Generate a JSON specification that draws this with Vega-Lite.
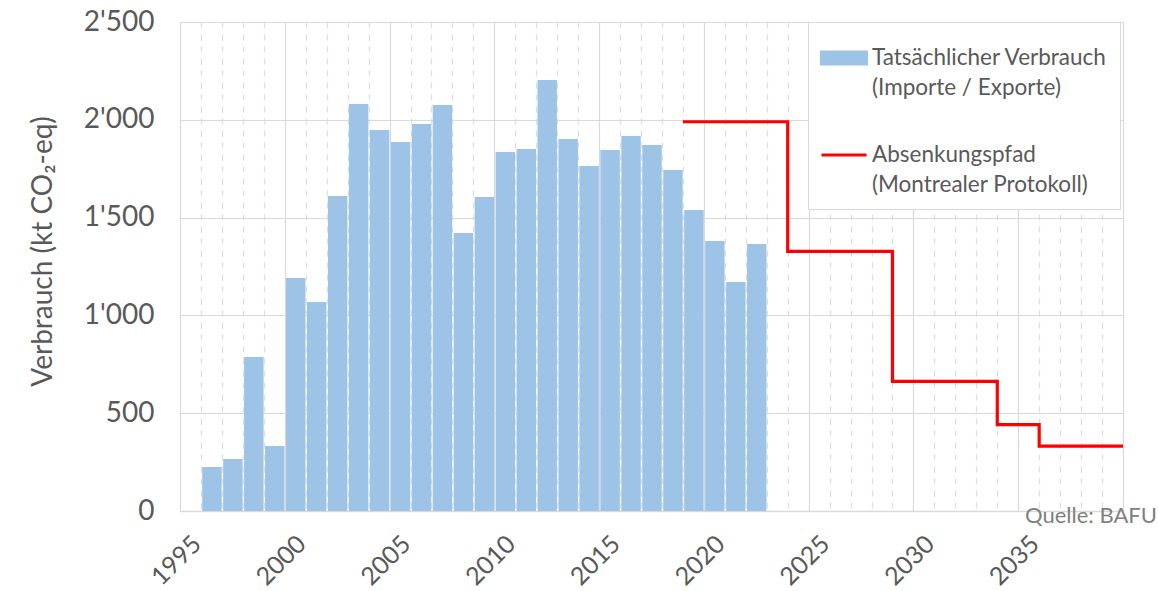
{
  "$schema": "https://vega.github.io/schema/vega-lite/v6.json",
  "width": 943,
  "height": 489,
  "autosize": {"type": "none"},
  "padding": {"left": 180, "top": 22, "right": 35, "bottom": 80},
  "background": "white",
  "config": {
    "font": "Lato",
    "view": {"stroke": null},
    "axis": {"labelColor": "#595959", "titleColor": "#595959", "labelFont": "Lato", "titleFont": "Lato"}
  },
  "layer": [
    {
      "data": {
        "values": [
          {"year": 1996, "value": 225}, {"year": 1997, "value": 266}, {"year": 1998, "value": 787},
          {"year": 1999, "value": 332}, {"year": 2000, "value": 1191}, {"year": 2001, "value": 1068},
          {"year": 2002, "value": 1610}, {"year": 2003, "value": 2081}, {"year": 2004, "value": 1948},
          {"year": 2005, "value": 1887}, {"year": 2006, "value": 1979}, {"year": 2007, "value": 2076},
          {"year": 2008, "value": 1421}, {"year": 2009, "value": 1605}, {"year": 2010, "value": 1835},
          {"year": 2011, "value": 1851}, {"year": 2012, "value": 2203}, {"year": 2013, "value": 1902},
          {"year": 2014, "value": 1764}, {"year": 2015, "value": 1846}, {"year": 2016, "value": 1917},
          {"year": 2017, "value": 1871}, {"year": 2018, "value": 1743}, {"year": 2019, "value": 1539},
          {"year": 2020, "value": 1380}, {"year": 2021, "value": 1171}, {"year": 2022, "value": 1365}
        ]
      },
      "mark": {"type": "bar", "binSpacing": 1.5},
      "encoding": {
        "x": {
          "field": "year",
          "type": "quantitative",
          "bin": {"step": 1, "extent": [1995, 2040]},
          "scale": {"domain": [1995, 2040], "nice": false},
          "axis": {
            "title": null,
            "values": [1995,1996,1997,1998,1999,2000,2001,2002,2003,2004,2005,2006,2007,2008,2009,2010,2011,2012,2013,2014,2015,2016,2017,2018,2019,2020,2021,2022,2023,2024,2025,2026,2027,2028,2029,2030,2031,2032,2033,2034,2035,2036,2037,2038,2039,2040],
            "format": "d",
            "labelExpr": "datum.value % 5 === 0 && datum.value < 2040 ? datum.label : ''",
            "labelAngle": -45,
            "labelFontSize": 25,
            "labelPadding": 20,
            "labelOffset": 8,
            "labelOverlap": false,
            "labelBound": false,
            "labelFlush": false,
            "ticks": false,
            "domain": true,
            "domainColor": "#D9D9D9",
            "domainWidth": 1.5,
            "grid": true,
            "gridColor": {"condition": {"test": "datum.value % 5 === 0", "value": "#D9D9D9"}, "value": "#DEDEDE"},
            "gridDash": {"condition": {"test": "datum.value % 5 === 0", "value": []}, "value": [6, 6]},
            "gridWidth": 1.2
          }
        },
        "y": {
          "field": "value",
          "type": "quantitative",
          "aggregate": "sum",
          "scale": {"domain": [0, 2500], "nice": false},
          "axis": {
            "title": "Verbrauch (kt CO₂-eq)",
            "titleFontSize": 28,
            "titleFontWeight": "normal",
            "titlePadding": 26,
            "titleY": 229,
            "values": [0, 500, 1000, 1500, 2000, 2500],
            "labelExpr": "replace(format(datum.value, ','), ',', \"'\")",
            "labelFontSize": 28,
            "labelPadding": 26,
            "ticks": false,
            "domain": true,
            "domainColor": "#D9D9D9",
            "grid": true,
            "gridColor": "#D9D9D9",
            "gridWidth": 1.2
          }
        },
        "color": {
          "datum": "Tatsächlicher Verbrauch (Importe / Exporte)",
          "type": "nominal",
          "scale": {
            "domain": ["Tatsächlicher Verbrauch (Importe / Exporte)", "Absenkungspfad (Montrealer Protokoll)"],
            "range": ["#9DC3E6", "#FF0000"]
          },
          "legend": {
            "title": null,
            "orient": "none",
            "legendX": 628,
            "legendY": 0,
            "fillColor": "white",
            "strokeColor": "#D9D9D9",
            "padding": 12,
            "rowPadding": 31,
            "labelFontSize": 22.5,
            "labelColor": "#595959",
            "labelFont": "Lato",
            "labelLimit": 400,
            "labelOffset": 4,
            "labelBaseline": "middle",
            "labelExpr": "datum.value === 'Absenkungspfad (Montrealer Protokoll)' ? ['Absenkungspfad', '(Montrealer Protokoll)'] : ['Tatsächlicher Verbrauch', '(Importe / Exporte)']",
            "symbolSize": 2025,
            "encode": {
              "labels": {"update": {"lineHeight": {"value": 30}}},
              "symbols": {
                "update": {
                  "shape": {"signal": "datum.value === 'Absenkungspfad (Montrealer Protokoll)' ? 'M-1,0H1' : 'M-1,-0.27H1V0.27H-1Z'"},
                  "fill": {"signal": "datum.value === 'Absenkungspfad (Montrealer Protokoll)' ? 'transparent' : '#9DC3E6'"},
                  "stroke": {"signal": "datum.value === 'Absenkungspfad (Montrealer Protokoll)' ? '#FF0000' : 'transparent'"},
                  "strokeWidth": {"value": 3},
                  "opacity": {"value": 1},
                  "size": {"value": 2025}
                }
              }
            }
          }
        }
      }
    },
    {
      "data": {
        "values": [
          {"year": 2019, "value": 1990}, {"year": 2024, "value": 1327}, {"year": 2029, "value": 663},
          {"year": 2034, "value": 442}, {"year": 2036, "value": 332}, {"year": 2040, "value": 332}
        ]
      },
      "mark": {"type": "line", "interpolate": "step-after", "strokeWidth": 3.2},
      "encoding": {
        "x": {"field": "year", "type": "quantitative"},
        "y": {"field": "value", "type": "quantitative"},
        "color": {"datum": "Absenkungspfad (Montrealer Protokoll)", "type": "nominal"}
      }
    },
    {
      "data": {"values": [{"label": "Quelle: BAFU"}]},
      "mark": {"type": "text", "align": "right", "baseline": "middle", "dx": 34, "dy": 5, "fontSize": 22, "color": "#7F7F7F", "font": "Lato"},
      "encoding": {
        "x": {"datum": 2040, "type": "quantitative"},
        "y": {"datum": 0, "type": "quantitative"},
        "text": {"field": "label"}
      }
    }
  ]
}
